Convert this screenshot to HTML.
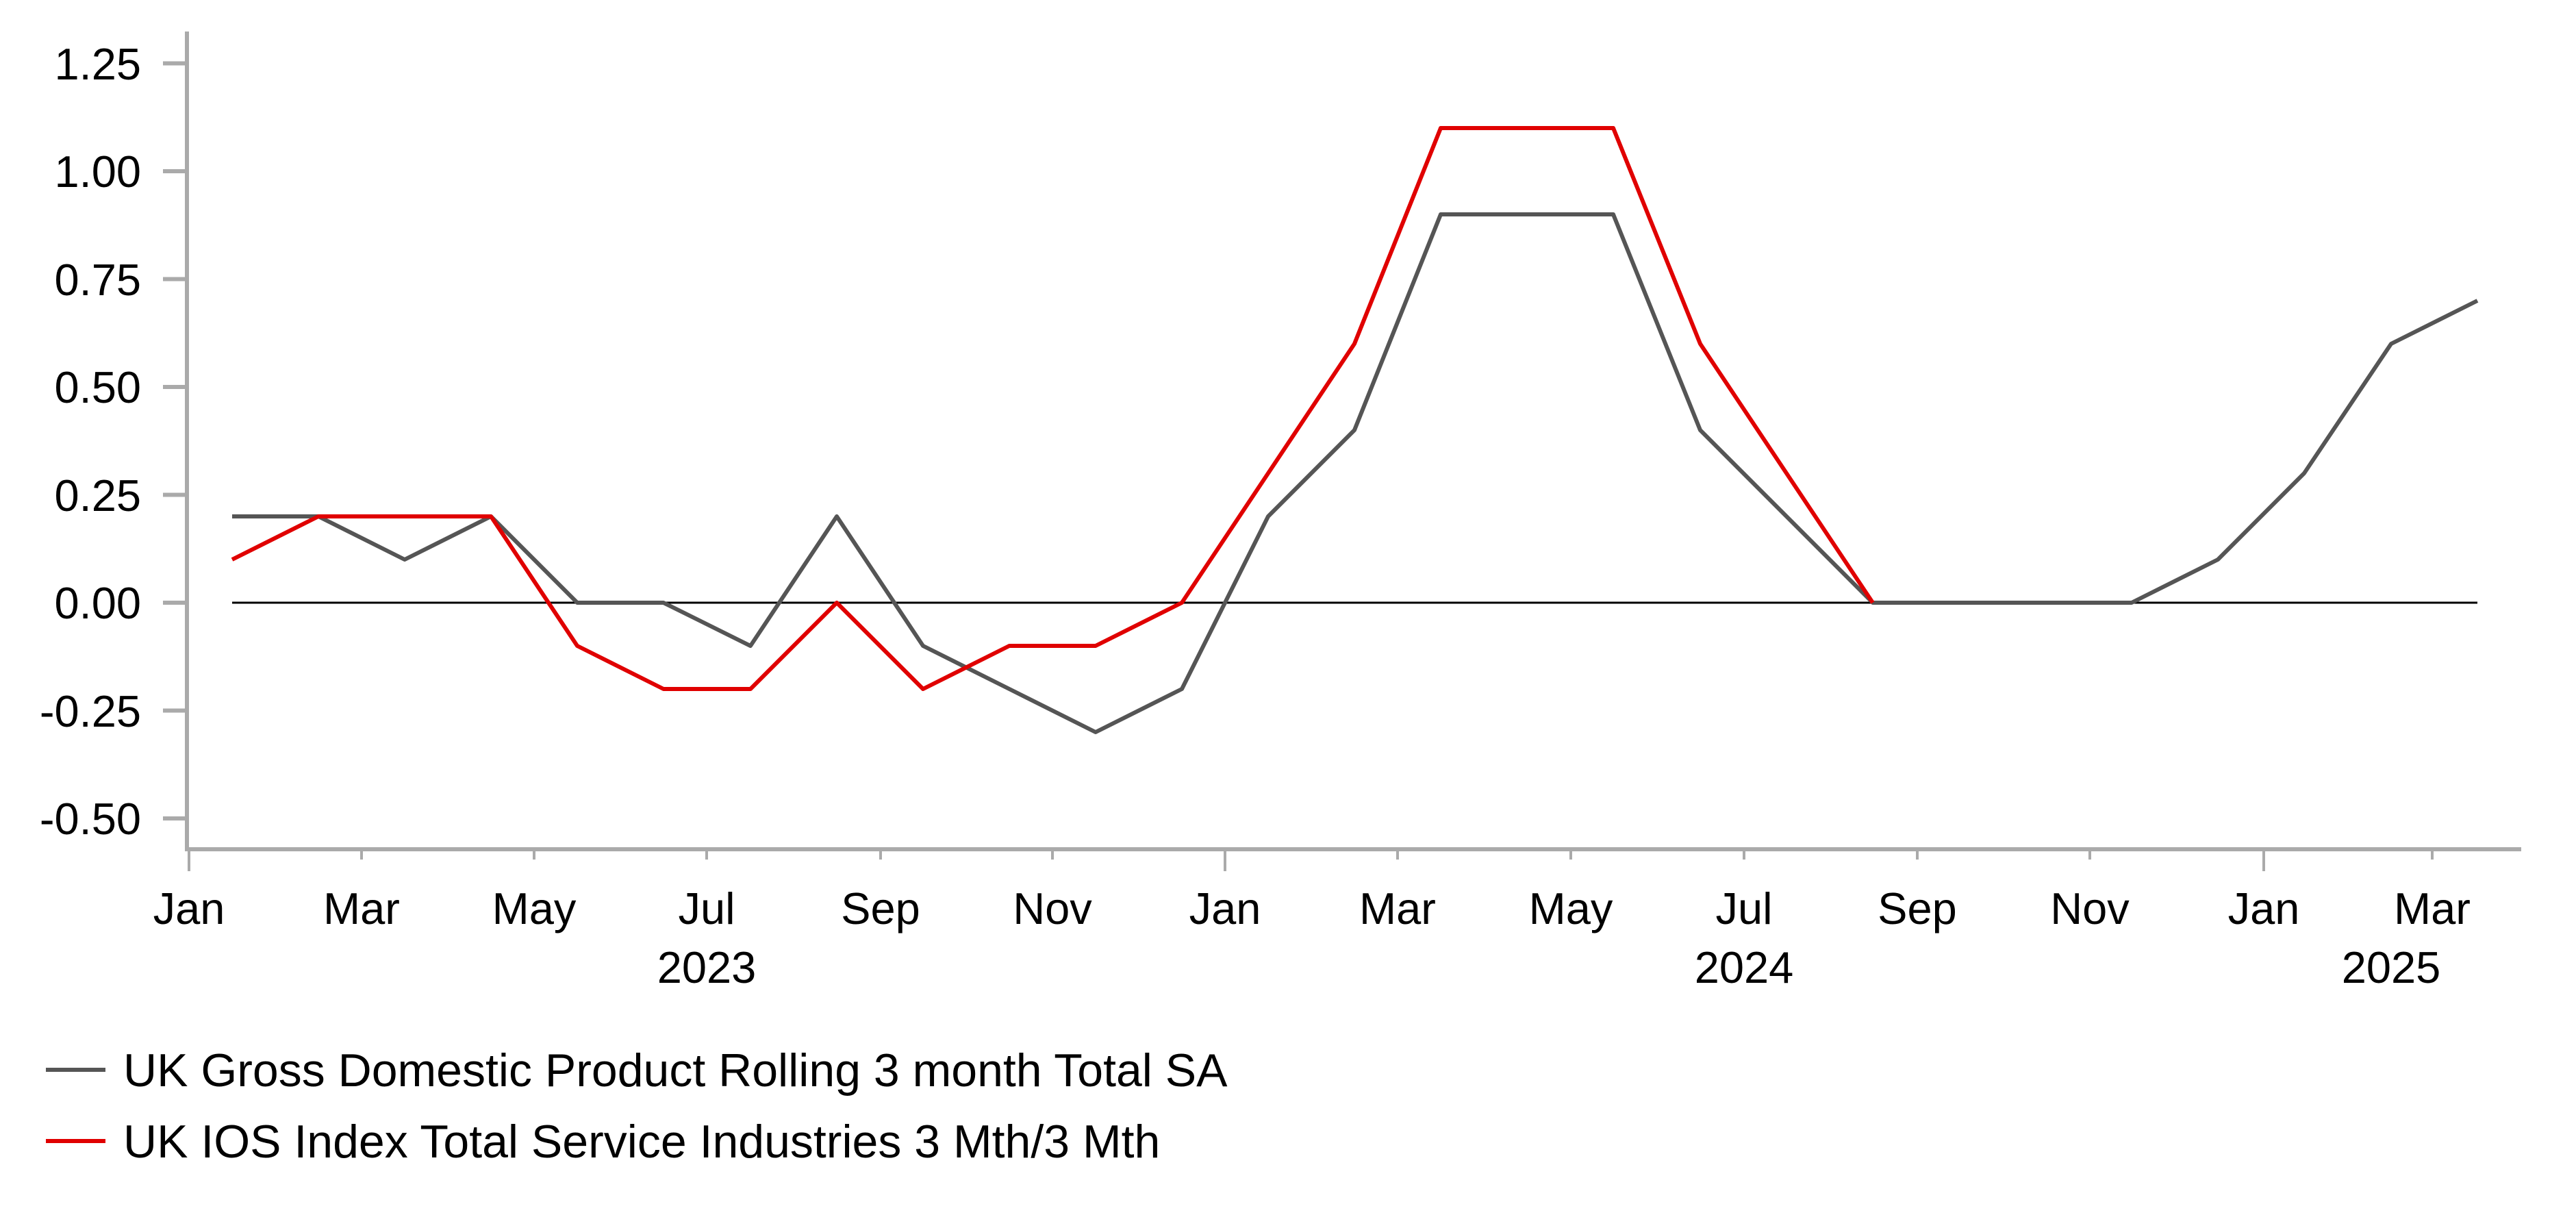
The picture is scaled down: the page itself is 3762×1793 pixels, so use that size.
<!DOCTYPE html>
<html><head><meta charset="utf-8"><style>
html,body{margin:0;padding:0;background:#fff;}
svg{display:block;font-family:"Liberation Sans",Arial,sans-serif;}
</style></head><body>
<svg width="3762" height="1793" viewBox="0 0 3762 1793" xmlns="http://www.w3.org/2000/svg">
<rect width="3762" height="1793" fill="#fff"/>
<g stroke="#aaaaaa" stroke-width="6" fill="none">
<line x1="273" y1="46" x2="273" y2="1243"/>
<line x1="270" y1="1240" x2="3682" y2="1240"/>
<line x1="238" y1="92.5" x2="273" y2="92.5"/>
<line x1="238" y1="250" x2="273" y2="250"/>
<line x1="238" y1="407.5" x2="273" y2="407.5"/>
<line x1="238" y1="565" x2="273" y2="565"/>
<line x1="238" y1="722.5" x2="273" y2="722.5"/>
<line x1="238" y1="880" x2="273" y2="880"/>
<line x1="238" y1="1037.5" x2="273" y2="1037.5"/>
<line x1="238" y1="1195" x2="273" y2="1195"/>
</g>
<g stroke="#aaaaaa" stroke-width="4">
<line x1="276" y1="1243" x2="276" y2="1272"/>
<line x1="528" y1="1243" x2="528" y2="1255"/>
<line x1="780" y1="1243" x2="780" y2="1255"/>
<line x1="1032" y1="1243" x2="1032" y2="1255"/>
<line x1="1286" y1="1243" x2="1286" y2="1255"/>
<line x1="1537" y1="1243" x2="1537" y2="1255"/>
<line x1="1789" y1="1243" x2="1789" y2="1272"/>
<line x1="2041" y1="1243" x2="2041" y2="1255"/>
<line x1="2294" y1="1243" x2="2294" y2="1255"/>
<line x1="2547" y1="1243" x2="2547" y2="1255"/>
<line x1="2800" y1="1243" x2="2800" y2="1255"/>
<line x1="3052" y1="1243" x2="3052" y2="1255"/>
<line x1="3306" y1="1243" x2="3306" y2="1272"/>
<line x1="3552" y1="1243" x2="3552" y2="1255"/>
</g>
<g font-size="65" fill="#000" text-anchor="end">
<text x="206" y="116">1.25</text>
<text x="206" y="273">1.00</text>
<text x="206" y="431">0.75</text>
<text x="206" y="588">0.50</text>
<text x="206" y="746">0.25</text>
<text x="206" y="903">0.00</text>
<text x="206" y="1061">-0.25</text>
<text x="206" y="1218">-0.50</text>
</g>
<g font-size="65" fill="#000" text-anchor="middle">
<text x="276" y="1349">Jan</text>
<text x="528" y="1349">Mar</text>
<text x="780" y="1349">May</text>
<text x="1032" y="1349">Jul</text>
<text x="1286" y="1349">Sep</text>
<text x="1537" y="1349">Nov</text>
<text x="1789" y="1349">Jan</text>
<text x="2041" y="1349">Mar</text>
<text x="2294" y="1349">May</text>
<text x="2547" y="1349">Jul</text>
<text x="2800" y="1349">Sep</text>
<text x="3052" y="1349">Nov</text>
<text x="3306" y="1349">Jan</text>
<text x="3552" y="1349">Mar</text>
<text x="1032" y="1435">2023</text>
<text x="2547" y="1435">2024</text>
<text x="3492" y="1435">2025</text>
</g>
<line x1="339" y1="880" x2="3618" y2="880" stroke="#000" stroke-width="3"/>
<polyline fill="none" stroke="#555555" stroke-width="6" stroke-linejoin="round" points="339,754 465,754 591,817 717,754 843,880 969,880 1096,943 1222,754 1348,943 1474,1006 1600,1069 1726,1006 1852,754 1978,628 2104,313 2230,313 2356,313 2483,628 2609,754 2735,880 2861,880 2987,880 3113,880 3239,817 3365,691 3492,502 3618,439"/>
<polyline fill="none" stroke="#e00000" stroke-width="6" stroke-linejoin="round" points="339,817 465,754 591,754 717,754 843,943 969,1006 1096,1006 1222,880 1348,1006 1474,943 1600,943 1726,880 1852,691 1978,502 2104,187 2230,187 2356,187 2483,502 2609,691 2735,880"/>
<line x1="67" y1="1562" x2="154" y2="1562" stroke="#555555" stroke-width="6"/>
<line x1="67" y1="1666" x2="154" y2="1666" stroke="#e00000" stroke-width="6"/>
<g font-size="68" fill="#000">
<text x="180" y="1586">UK Gross Domestic Product Rolling 3 month Total SA</text>
<text x="180" y="1690">UK IOS Index Total Service Industries 3 Mth/3 Mth</text>
</g>
</svg>
</body></html>
